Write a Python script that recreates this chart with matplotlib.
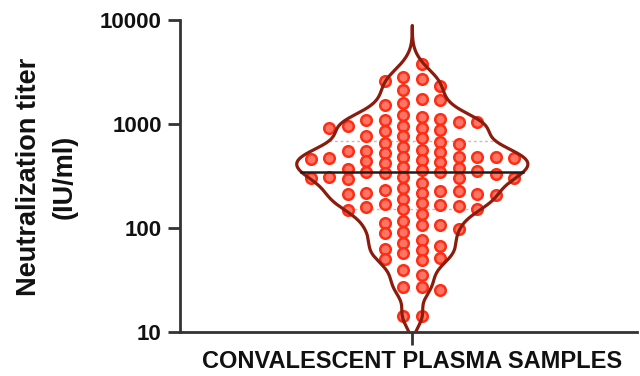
import numpy as np
import matplotlib
matplotlib.use("Agg")
import matplotlib.pyplot as plt

plt.rcParams['font.family'] = ['Liberation Sans', 'DejaVu Sans']
plt.rcParams['font.weight'] = 'bold'

# Neutralization titers (IU/ml) of the convalescent plasma samples
titers = [
    3770,
    2800, 2700, 2590, 2320, 2100, 1740, 1700, 1590, 1520,
    1220, 1165, 1115, 1090, 1090, 1043, 1043,
    954, 954, 913, 913, 874, 855, 765, 765, 732,
    670, 655, 641, 600, 561, 549, 543, 536, 525,
    480, 480, 480, 480, 470, 470, 459, 449, 435, 430, 420,
    385, 376, 368, 360, 352, 344, 344, 337, 329,
    310, 308, 302, 302, 302, 295,
    270, 242, 231, 226, 226, 216, 216, 212, 212, 207,
    189, 173, 169, 166, 162, 159, 152, 152, 148, 136,
    116, 111, 106, 106, 97.4, 91.1, 89.1, 76.3, 71.4, 66.8,
    62.5, 61.1, 57.2, 51.2, 50.1, 49.0, 39.3, 35.1, 26.9, 26.9, 25.2, 14.2, 14.2,
]
category = "CONVALESCENT PLASMA SAMPLES"
y_label = "Neutralization titer\n(IU/ml)"
y_ticks = [10, 100, 1000, 10000]
y_tick_labels = ["10", "100", "1000", "10000"]

OUTLINE = "#8a1c0e"
DOT_FACE = "#ff7565"
DOT_EDGE = "#ff2d14"
AXIS = "#333333"

values = np.asarray(titers, dtype=float)

fig = plt.figure(figsize=(6.4, 3.76), dpi=100)
ax = fig.add_axes([0.281, 0.118, 0.714, 0.829])
ax.set_yscale("log")
ax.set_ylim(10, 10000)
ax.set_xlim(-12.57, 12.14)

# --- violin: gaussian KDE on log10 titers ---
logv = np.log10(values)
bw = 0.11
grid = np.linspace(logv.min() - 0.37, logv.max() + 0.37, 800)
dens = np.exp(-0.5 * ((grid[:, None] - logv[None, :]) / bw) ** 2).sum(axis=1)
half = dens / dens.max() * 6.25
gy = 10 ** grid
ax.fill_betweenx(gy, -half, half, color="white", zorder=1, linewidth=0)
ax.plot(np.r_[-half, half[::-1], -half[:1]], np.r_[gy, gy[::-1], gy[:1]],
        color=OUTLINE, lw=2.3, zorder=5, solid_joinstyle="round")

# quartile and median lines
q1, med, q3 = np.percentile(values, [25, 50, 75])
for q in (q1, q3):
    w = np.interp(np.log10(q), grid, half)
    ax.plot([-w, w], [q, q], color="#dcb4ac", lw=1.0, ls=(0, (2, 2)), zorder=2)
wm = np.interp(np.log10(med), grid, half)
ax.plot([-wm, wm], [med, med], color="#1e1e1e", lw=1.8, zorder=6)

# --- column-packed scatter of the individual samples ---
ypix = ax.transData.transform(np.c_[np.zeros_like(values), values])[:, 1]
gap = 9.6
placed = {}
offsets = np.zeros_like(values)
flip = False
for i in np.argsort(-ypix, kind="stable"):
    for level in range(30):
        cands = [level + 0.5, -(level + 0.5)]
        free = [c for c in cands
                if all(abs(ypix[i] - q) >= gap for q in placed.get(c, []))]
        if not free:
            continue
        if len(free) == 2:
            nr = len(placed.get(cands[0], []))
            nl = len(placed.get(cands[1], []))
            if nr < nl:
                c = cands[0]
            elif nl < nr:
                c = cands[1]
            else:
                c = cands[int(flip)]
                flip = not flip
        else:
            c = free[0]
        placed.setdefault(c, []).append(ypix[i])
        offsets[i] = c
        break

ax.scatter(offsets, values, s=58, facecolor=DOT_FACE, edgecolor=DOT_EDGE,
           linewidths=1.8, zorder=3)

# --- axes styling ---
for side in ("top", "right"):
    ax.spines[side].set_visible(False)
for side in ("left", "bottom"):
    ax.spines[side].set_linewidth(2.0)
    ax.spines[side].set_color(AXIS)

ax.set_yticks(y_ticks)
ax.set_yticklabels(y_tick_labels)
ax.yaxis.set_minor_locator(matplotlib.ticker.NullLocator())
ax.set_xticks([0])
ax.set_xticklabels([category])
ax.tick_params(axis="both", direction="out", length=9, width=2.0, color=AXIS,
               pad=4)
ax.tick_params(axis="y", labelsize=16)
ax.tick_params(axis="x", labelsize=17)
for lab in ax.get_xticklabels() + ax.get_yticklabels():
    lab.set_fontweight("bold")
    lab.set_color("#111111")

fig.text(47 / 640, 1 - 177 / 376, y_label, rotation=90, ha="center",
         va="center", multialignment="center", fontsize=19.5,
         fontweight="bold", color="#111111", linespacing=1.45)

fig.savefig("out.png", dpi=100)
